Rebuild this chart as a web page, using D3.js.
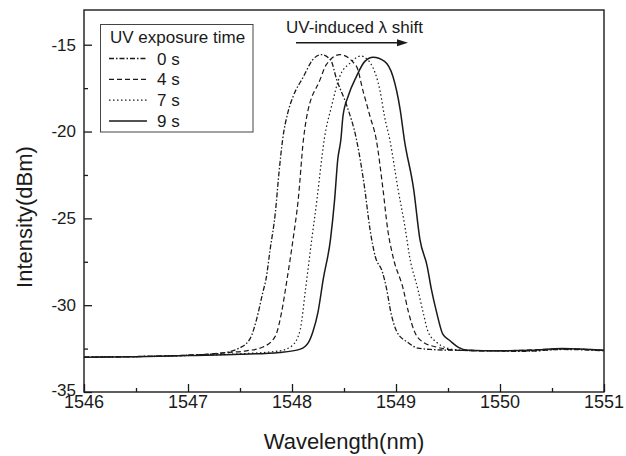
<!DOCTYPE html>
<html>
<head>
<meta charset="utf-8">
<script src="https://cdn.jsdelivr.net/npm/d3@7"></script>
<style>
  body { margin: 0; background: #fff; }
  svg { font-family: "Liberation Sans", Arial, sans-serif; }
</style>
</head>
<body>
<svg width="626" height="456"></svg>
<script>
// spectra: [wavelength nm, intensity dBm]
var s0 = [[1546.00,-32.99],[1546.50,-32.96],[1547.00,-32.88],[1547.30,-32.78],[1547.50,-32.45],[1547.60,-31.9],[1547.66,-30.8],[1547.72,-29.25],[1547.75,-28.5],[1547.79,-26.78],[1547.84,-24.66],[1547.875,-22.36],[1547.91,-20.46],[1547.96,-18.91],[1548.01,-17.99],[1548.11,-16.84],[1548.20,-15.86],[1548.28,-15.57],[1548.37,-15.86],[1548.43,-17.01],[1548.53,-18.56],[1548.62,-20.46],[1548.70,-23.33],[1548.75,-25.63],[1548.80,-27.18],[1548.87,-28.1],[1548.91,-29.08],[1548.95,-30.4],[1549.01,-31.55],[1549.11,-32.13],[1549.21,-32.47],[1549.33,-32.55],[1549.60,-32.6],[1549.90,-32.62],[1550.20,-32.66],[1550.60,-32.55],[1551.00,-32.62]];
var s4 = [[1546.00,-32.99],[1546.50,-32.96],[1547.00,-32.88],[1547.40,-32.72],[1547.56,-32.63],[1547.72,-32.41],[1547.84,-31.78],[1547.90,-30.4],[1547.95,-28.6],[1548.01,-26.21],[1548.06,-23.91],[1548.11,-20.46],[1548.14,-19.2],[1548.27,-17.01],[1548.33,-16.15],[1548.46,-15.57],[1548.62,-16.25],[1548.68,-17.59],[1548.75,-19.12],[1548.81,-20.46],[1548.875,-23.33],[1548.92,-25.63],[1548.97,-27.18],[1549.07,-29.08],[1549.12,-30.4],[1549.18,-31.55],[1549.26,-32.13],[1549.39,-32.41],[1549.55,-32.58],[1549.90,-32.64],[1550.20,-32.6],[1550.60,-32.52],[1551.00,-32.6]];
var s7 = [[1546.00,-32.99],[1546.50,-32.96],[1547.00,-32.9],[1547.50,-32.8],[1547.88,-32.63],[1548.00,-32.34],[1548.08,-31.38],[1548.13,-29.08],[1548.19,-26.21],[1548.24,-23.91],[1548.27,-22.36],[1548.31,-20.46],[1548.38,-18.55],[1548.46,-16.82],[1548.56,-16.05],[1548.66,-15.65],[1548.75,-16.03],[1548.85,-17.76],[1548.89,-19.14],[1548.94,-20.46],[1549.02,-23.33],[1549.09,-25.63],[1549.13,-27.18],[1549.21,-29.08],[1549.26,-30.4],[1549.31,-31.55],[1549.39,-32.13],[1549.49,-32.47],[1549.65,-32.6],[1549.95,-32.62],[1550.30,-32.64],[1550.65,-32.52],[1551.00,-32.62]];
var s9 = [[1546.00,-33.0],[1546.50,-32.97],[1547.00,-32.9],[1547.50,-32.83],[1547.88,-32.72],[1548.08,-32.53],[1548.16,-32.13],[1548.20,-31.55],[1548.25,-30.4],[1548.30,-28.51],[1548.37,-26.21],[1548.41,-23.91],[1548.44,-21.61],[1548.47,-20.46],[1548.49,-19.12],[1548.54,-17.97],[1548.62,-16.82],[1548.70,-15.96],[1548.78,-15.72],[1548.89,-15.96],[1548.97,-16.82],[1549.04,-18.74],[1549.08,-20.46],[1549.17,-23.33],[1549.23,-26.21],[1549.30,-27.76],[1549.34,-29.08],[1549.39,-30.4],[1549.45,-31.67],[1549.52,-32.05],[1549.60,-32.43],[1549.69,-32.59],[1550.00,-32.63],[1550.30,-32.6],[1550.60,-32.5],[1551.00,-32.6]];
var labels = ["0 s", "4 s", "7 s", "9 s"];
var xTicks = [1546, 1547, 1548, 1549, 1550, 1551];
var yTicks = [-35, -30, -25, -20, -15];

var series = [s0, s4, s7, s9];
var dashes = ["5,2,1.5,2", "5,3", "1.5,2.5", null];
var widths = [1.3, 1.2, 1.2, 1.5];

var svg = d3.select("svg"),
    pL = 84, pR = 604, pT = 10, pB = 392,
    ink = "#1a1a1a";

var x = d3.scaleLinear().domain([1546, 1551]).range([pL, pR]);
var y = d3.scaleLinear().domain([-35, -13]).range([pB, pT]);

// inward ticks, major + minor
svg.append("g")
   .attr("transform", "translate(0," + pB + ")")
   .call(d3.axisTop(x).tickValues(d3.range(1546.5, 1551, 1)).tickSize(4).tickFormat(""))
   .call(function(g){ g.select(".domain").remove(); });
svg.append("g")
   .attr("transform", "translate(0," + pB + ")")
   .call(d3.axisTop(x).tickValues(xTicks).tickSize(8).tickFormat(""))
   .call(function(g){ g.select(".domain").remove(); });
svg.append("g")
   .attr("transform", "translate(" + pL + ",0)")
   .call(d3.axisRight(y).tickValues([-32.5, -27.5, -22.5, -17.5]).tickSize(4).tickFormat(""))
   .call(function(g){ g.select(".domain").remove(); });
svg.append("g")
   .attr("transform", "translate(" + pL + ",0)")
   .call(d3.axisRight(y).tickValues(yTicks).tickSize(8).tickFormat(""))
   .call(function(g){ g.select(".domain").remove(); });
svg.selectAll(".tick line").attr("stroke", ink).attr("stroke-width", 1.3);

// tick labels
svg.selectAll(".xl")
   .data(xTicks)
   .enter().append("text")
   .attr("x", function(d){ return x(d); })
   .attr("y", pB + 16)
   .attr("text-anchor", "middle")
   .attr("font-size", 18)
   .attr("fill", ink)
   .text(function(d){ return d; });
svg.selectAll(".yl")
   .data(yTicks)
   .enter().append("text")
   .attr("x", pL - 8)
   .attr("y", function(d){ return y(d) - (d === -35 ? 1.5 : 0); })
   .attr("dy", "0.35em")
   .attr("text-anchor", "end")
   .attr("font-size", 17)
   .attr("fill", ink)
   .text(function(d){ return d; });

var line = d3.line()
    .x(function(d){ return x(d[0]); })
    .y(function(d){ return y(d[1]); })
    .curve(d3.curveMonotoneX);

svg.selectAll(".spec")
   .data(series)
   .enter().append("path")
   .attr("class", "spec")
   .attr("d", line)
   .attr("fill", "none")
   .attr("stroke", ink)
   .attr("stroke-width", function(_, i){ return widths[i]; })
   .attr("stroke-dasharray", function(_, i){ return dashes[i]; });

// frame
svg.append("rect")
   .attr("x", pL).attr("y", pT)
   .attr("width", pR - pL).attr("height", pB - pT)
   .attr("fill", "none").attr("stroke", ink).attr("stroke-width", 1.4);

// legend
var lg = svg.append("g");
lg.append("rect")
  .attr("x", 100.5).attr("y", 24.5).attr("width", 152.5).attr("height", 107.5)
  .attr("fill", "#fff").attr("stroke", "#444").attr("stroke-width", 1);
lg.append("text")
  .attr("x", 110).attr("y", 42.7)
  .attr("font-size", 17).attr("fill", ink)
  .text("UV exposure time");
labels.forEach(function(l, i){
    var ly = 58.5 + i * 20.8;
    lg.append("line")
      .attr("x1", 109).attr("x2", 147).attr("y1", ly).attr("y2", ly)
      .attr("stroke", ink).attr("stroke-width", widths[i])
      .attr("stroke-dasharray", dashes[i]);
    lg.append("text")
      .attr("x", 157).attr("y", ly + 6)
      .attr("font-size", 17).attr("fill", ink)
      .text(l);
});

// shift annotation
svg.append("text")
   .attr("x", 286).attr("y", 32.7)
   .attr("font-size", 17).attr("fill", ink)
   .text("UV-induced \u03bb shift");
svg.append("line")
   .attr("x1", 296).attr("x2", 399).attr("y1", 42.7).attr("y2", 42.7)
   .attr("stroke", ink).attr("stroke-width", 1.5);
svg.append("path")
   .attr("d", "M397,39.2L408,42.7L397,46.2Z")
   .attr("fill", ink);

// axis titles
svg.append("text")
   .attr("x", (pL + pR) / 2).attr("y", 449)
   .attr("text-anchor", "middle")
   .attr("font-size", 22).attr("fill", ink)
   .text("Wavelength(nm)");
svg.append("text")
   .attr("transform", "translate(32," + 217 + ") rotate(-90)")
   .attr("text-anchor", "middle")
   .attr("font-size", 22).attr("fill", ink)
   .text("Intensity(dBm)");
</script>
</body>
</html>
